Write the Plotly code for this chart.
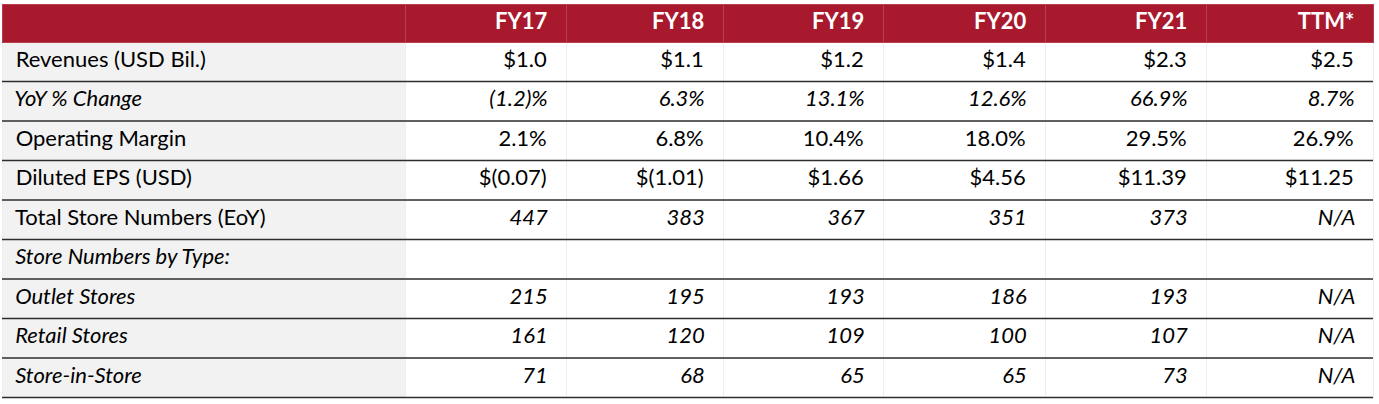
import plotly.graph_objects as go

years = ["FY17", "FY18", "FY19", "FY20", "FY21", "TTM*"]
row_labels = [
    "Revenues (USD Bil.)",
    "YoY % Change",
    "Operating Margin",
    "Diluted EPS (USD)",
    "Total Store Numbers (EoY)",
    "Store Numbers by Type:",
    "Outlet Stores",
    "Retail Stores",
    "Store-in-Store",
]
revenues = ["$1.0", "$1.1", "$1.2", "$1.4", "$2.3", "$2.5"]
yoy_change = ["(1.2)%", "6.3%", "13.1%", "12.6%", "66.9%", "8.7%"]
operating_margin = ["2.1%", "6.8%", "10.4%", "18.0%", "29.5%", "26.9%"]
diluted_eps = ["$(0.07)", "$(1.01)", "$1.66", "$4.56", "$11.39", "$11.25"]
total_stores = ["447", "383", "367", "351", "373", "N/A"]
store_type_header = ["", "", "", "", "", ""]
outlet_stores = ["215", "195", "193", "186", "193", "N/A"]
retail_stores = ["161", "120", "109", "100", "107", "N/A"]
store_in_store = ["71", "68", "65", "65", "73", "N/A"]

rows = [revenues, yoy_change, operating_margin, diluted_eps, total_stores,
        store_type_header, outlet_stores, retail_stores, store_in_store]
label_italic = [False, True, False, False, False, True, True, True, True]
value_italic = [False, True, False, False, True, False, True, True, True]

NB = "\u00a0"
PAD_L = NB * 1
PAD_R = NB * 2


def label_column(want_italic):
    return [(PAD_L + l) if it == want_italic else "" for l, it in zip(row_labels, label_italic)]


def value_columns(want_italic):
    return [[(r[j] + PAD_R) if (r[j] and it == want_italic) else "" for r, it in zip(rows, value_italic)]
            for j in range(len(years))]


header_vals = [""] + [y + PAD_R for y in years]

RED = "#A8192E"
FONT = "Lato"
FS = 22
CLEAR = "rgba(0,0,0,0)"

n_rows = len(row_labels)
fill_cols = [["#F2F2F2"] * n_rows] + [["#FFFFFF"] * n_rows for _ in years]
col_widths = [403, 161, 157, 160, 162, 161, 167]
aligns = ["left"] + ["right"] * len(years)

HEADER_H = 38
CELL_H = 39.5

# base table: fills, lines, upright text
base = go.Table(
    columnwidth=col_widths,
    header=dict(
        values=header_vals,
        fill_color=RED,
        line=dict(color="#B5404F", width=1),
        align=aligns,
        font=dict(family=FONT, size=FS, color="white", weight="bold"),
        height=HEADER_H,
    ),
    cells=dict(
        values=[label_column(False)] + value_columns(False),
        fill_color=fill_cols,
        line=dict(color="#EEEEEE", width=1),
        align=aligns,
        font=dict(family=FONT, size=FS, color="black", style="normal"),
        height=CELL_H,
    ),
    domain=dict(x=[0, 1], y=[0, 1]),
)

# overlay table: italic text only
overlay = go.Table(
    columnwidth=col_widths,
    header=dict(
        values=[""] * (len(years) + 1),
        fill_color=CLEAR,
        line=dict(color=CLEAR, width=0),
        height=HEADER_H,
    ),
    cells=dict(
        values=[label_column(True)] + value_columns(True),
        fill_color=CLEAR,
        line=dict(color=CLEAR, width=0),
        align=aligns,
        font=dict(family=FONT, size=FS, color="black", style="italic"),
        height=CELL_H,
    ),
    domain=dict(x=[0, 1], y=[0, 1]),
)

fig = go.Figure([base, overlay])

shapes = []
for i in range(1, n_rows + 1):
    off = HEADER_H + i * CELL_H
    shapes.append(dict(
        type="line", xref="paper", yref="paper", ysizemode="pixel", yanchor=1,
        x0=0, x1=1, y0=-off, y1=-off,
        line=dict(color="#2E2E2E", width=1.5), layer="above",
    ))

fig.update_layout(
    width=1379, height=404,
    margin=dict(l=2, r=6, t=4, b=0),
    paper_bgcolor="white",
    shapes=shapes,
)

fig.write_html(
    "out.html",
    config={"displayModeBar": False},
    post_script="document.body.style.margin='0';",
)
